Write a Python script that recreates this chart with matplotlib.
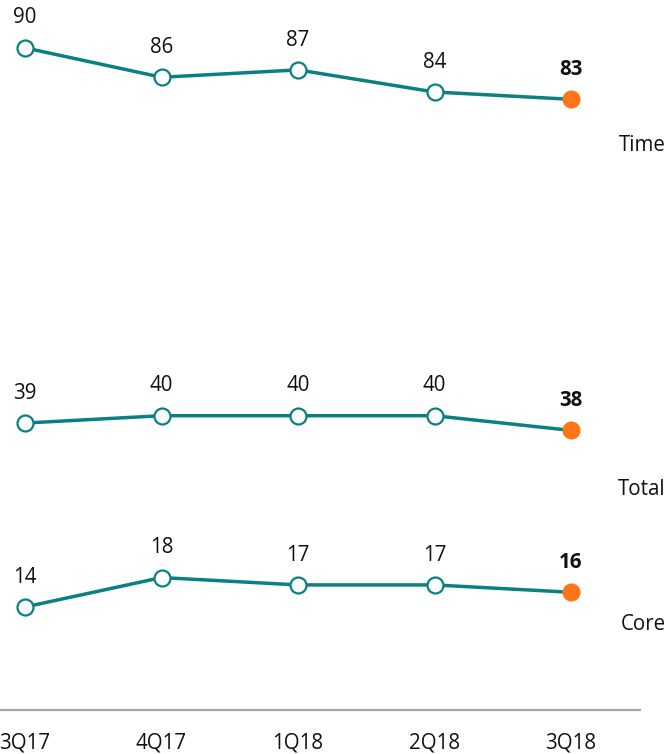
import matplotlib
matplotlib.use("Agg")
import matplotlib.pyplot as plt

plt.rcParams['font.family'] = ['Open Sans', 'DejaVu Sans']

quarters = ['3Q17', '4Q17', '1Q18', '2Q18', '3Q18']
time_vals = [90, 86, 87, 84, 83]
total_vals = [39, 40, 40, 40, 38]
core_vals = [14, 18, 17, 17, 16]
series_names = ['Time', 'Total', 'Core']
name_y = [76.7, 30.0, 11.6]

teal = '#0a8082'
orange = '#ff7518'
fs = 14.8

fig = plt.figure(figsize=(6.68, 7.54), dpi=100)
ax = fig.add_axes([0, 44 / 754, 640 / 668, 1 - 44 / 754])

x = list(range(len(quarters)))
for vals in (time_vals, total_vals, core_vals):
    ax.plot(x, vals, color=teal, lw=2.5, zorder=2)
    ax.plot(x[:-1], vals[:-1], 'o', ms=11.5, mfc='white', mec=teal, mew=1.6, zorder=3)
    ax.plot(x[-1], vals[-1], 'o', ms=12, mfc=orange, mec=orange, zorder=3)
    for i, v in enumerate(vals):
        last = i == len(vals) - 1
        ax.annotate(str(v), (i, v), xytext=(0, 21.5), textcoords='offset points',
                    ha='center', va='center', fontsize=fs,
                    fontweight='bold' if last else 'normal', color='#111111')

for name, y in zip(series_names, name_y):
    ax.text(1.0 + 26 / 640, y, name, transform=ax.get_yaxis_transform(),
            ha='right', va='center', fontsize=fs, color='#111111', clip_on=False)

ax.set_xlim(-25 / 136.5, 615 / 136.5)
ax.set_ylim(0, 96.5)
ax.set_xticks(x)
ax.set_xticklabels(quarters, fontsize=fs, color='#111111')
ax.tick_params(axis='x', length=0, pad=16)
ax.set_yticks([])
for side in ('top', 'left', 'right'):
    ax.spines[side].set_visible(False)
ax.spines['bottom'].set_color('#a6a6a6')
ax.spines['bottom'].set_linewidth(1.6)

fig.savefig('out.png', dpi=100)
